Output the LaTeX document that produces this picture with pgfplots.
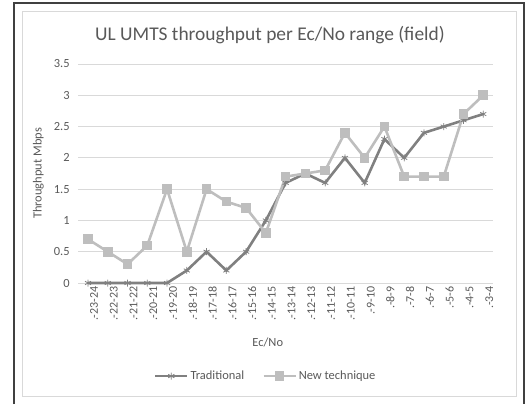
\documentclass[border=0pt]{standalone}
\usepackage{fontspec}
\setmainfont{Carlito}
\usepackage{pgfplots}
\pgfplotsset{compat=1.18}
\definecolor{trad}{HTML}{808080}
\definecolor{newt}{HTML}{BEBEBE}
\definecolor{txt}{HTML}{595959}
\definecolor{gridc}{HTML}{D9D9D9}
\begin{document}
\begin{tikzpicture}[x=1bp,y=1bp]
\path (0,0) rectangle (526,404);
\draw[gridc, line width=1bp] (22,8) rectangle (516,392);
\draw[black!75, line width=1.5bp] (14,0) -- (14,401) -- (524,401) -- (524,0);
\node[txt, font=\fontsize{19.5}{22}\selectfont] at (270,369) {UL UMTS throughput per Ec/No range (field)};
\begin{axis}[
  at={(88bp,121bp)}, anchor=origin,
  scale only axis, width=415bp, height=219bp,
  xmin=-0.5, xmax=20.5, ymin=0, ymax=3.5,
  xtick={0,...,20},
  xticklabels={.-23-24,.-22-23,.-21-22,.-20-21,.-19-20,.-18-19,.-17-18,.-16-17,.-15-16,.-14-15,.-13-14,.-12-13,.-11-12,.-10-11,.-9-10,.-8-9,.-7-8,.-6-7,.-5-6,.-4-5,.-3-4},
  ytick={0,0.5,...,3.5},
  axis line style={draw=none},
  major tick length=0pt,
  ymajorgrids, grid style={gridc, line width=0.9bp},
  /pgf/number format/assume math mode=true,
  /pgf/number format/fixed,
  yticklabel style={txt, font=\fontsize{12.5}{14}\selectfont, xshift=-5bp},
  xticklabel style={txt, font=\fontsize{12}{14}\selectfont, rotate=90, anchor=east, yshift=-6bp},
  xlabel={Ec/No}, ylabel={Throughput Mbps},
  xlabel style={txt, font=\fontsize{12.5}{15}\selectfont, at={(axis description cs:0.457,-0.27)}, anchor=center},
  ylabel style={txt, font=\fontsize{12.5}{15}\selectfont, at={(axis description cs:-0.096,0.5)}, anchor=center},
  legend style={draw=none, fill=none, at={(axis description cs:0.452,-0.425)}, anchor=center, font=\fontsize{12.5}{14}\selectfont, text=txt, /tikz/every even column/.append style={column sep=16bp}},
  legend columns=2,
  legend image code/.code={\draw[#1] (0bp,0bp) -- (32bp,0bp); \draw[#1, mark repeat=1] plot coordinates {(16bp,0bp)};},
  clip=false,
]
\addplot[trad, line width=2.6bp, mark=asterisk, mark size=3.5bp, mark options={line width=0.8bp}] coordinates {
(0,0) (1,0) (2,0) (3,0) (4,0) (5,0.2) (6,0.5) (7,0.2) (8,0.5) (9,1.0) (10,1.6) (11,1.75) (12,1.6) (13,2.0) (14,1.6) (15,2.3) (16,2.0) (17,2.4) (18,2.5) (19,2.6) (20,2.7)
};
\addlegendentry{Traditional}
\addplot[newt, line width=2.6bp, mark=square*, mark size=3.5bp] coordinates {
(0,0.7) (1,0.5) (2,0.3) (3,0.6) (4,1.5) (5,0.5) (6,1.5) (7,1.3) (8,1.2) (9,0.8) (10,1.7) (11,1.75) (12,1.8) (13,2.4) (14,2.0) (15,2.5) (16,1.7) (17,1.7) (18,1.7) (19,2.7) (20,3.0)
};
\addlegendentry{New technique}
\end{axis}
\end{tikzpicture}
\end{document}
